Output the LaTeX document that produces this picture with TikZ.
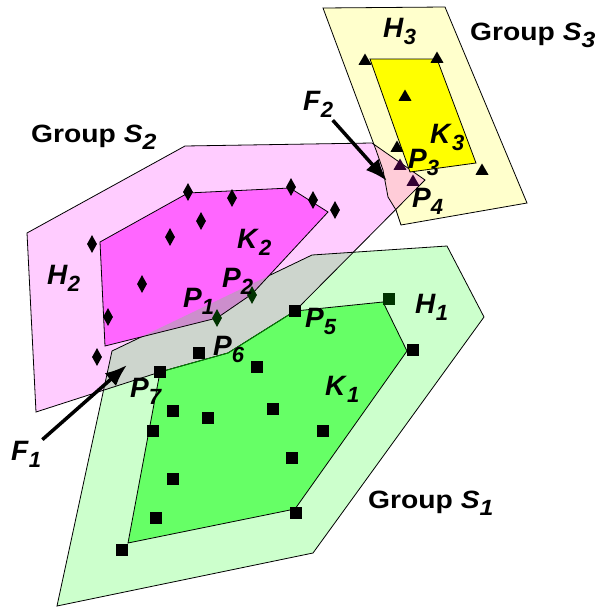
\documentclass[tikz,border=0pt]{standalone}
\usepackage{fontspec}
\setmainfont{Liberation Sans}
\usetikzlibrary{arrows.meta,shapes.geometric}

\definecolor{hullpink}{HTML}{FFCCFF}
\definecolor{corepink}{HTML}{FF66FF}
\definecolor{hullgreen}{HTML}{CCFFCC}
\definecolor{coregreen}{HTML}{66FF66}
\definecolor{hullyellow}{HTML}{FFFFCC}
\definecolor{coreyellow}{HTML}{FFFF00}
\definecolor{overgray}{HTML}{CDD5CD}
\definecolor{overpurple}{HTML}{CC8ECC}
\definecolor{overrose}{HTML}{FFCCD8}
\definecolor{darkgreen}{HTML}{003300}
\definecolor{darkpurple}{HTML}{330033}

% sets and their hulls (picture units: 1pt, y downwards)
\newcommand{\HullOne}{(112,351) -- (312,255) -- (447,246) -- (484,317) -- (313,553) -- (57,606) -- cycle}
\newcommand{\HullTwo}{(27,233) -- (185,146) -- (372,143) -- (425,180) -- (295,311) -- (228,353) -- (160,372) -- (36,412) -- cycle}
\newcommand{\HullThree}{(323,8) -- (445,7) -- (527,203) -- (401,225) -- (396,210) -- (388,197) -- (383,170) -- (376,150) -- cycle}
\newcommand{\CoreOne}{(160,372) -- (228,353) -- (295,311) -- (383,302) -- (407,351) -- (295,509) -- (128,543) -- cycle}
\newcommand{\CoreTwo}{(100,242) -- (188,193) -- (290,188) -- (328,212) -- (252,294) -- (217,318) -- (105,346) -- cycle}
\newcommand{\CoreThree}{(370,59) -- (437,59) -- (476,163) -- (410,172) -- cycle}

\newcommand{\lab}[2]{\textit{#1}\raisebox{-7pt}{\fontsize{22}{22}\selectfont\textit{#2}}}
\newcommand{\grp}[2]{\scalebox{1.13}[1]{Group \lab{#1}{#2}}}

\begin{document}
\begin{tikzpicture}[
  x=1pt, y=-1pt,
  outline/.style={draw=black,line width=0.8pt},
  sqmark/.style={rectangle,fill=black,minimum size=11.5pt,inner sep=0pt},
  dmmark/.style={diamond,fill=black,minimum width=10pt,minimum height=18pt,inner sep=0pt},
  trmark/.style={regular polygon,regular polygon sides=3,fill=black,minimum size=15pt,inner sep=0pt},
  lbl/.style={font=\fontsize{28}{28}\selectfont\bfseries,inner sep=0pt,anchor=base west},
  grplbl/.style={font=\fontsize{25}{25}\selectfont\bfseries,inner sep=0pt,anchor=base west},
  farrow/.style={line width=3.5pt,-{Latex[length=22pt,width=17pt]}}
]
\useasboundingbox (0,0) rectangle (607,608);

% hull fills and their overlaps
\fill[hullpink] \HullTwo;
\fill[hullyellow] \HullThree;
\fill[hullgreen] \HullOne;
\begin{scope}
  \clip \HullOne;
  \fill[overgray] \HullTwo;
\end{scope}
\begin{scope}
  \clip \HullTwo;
  \fill[overrose] \HullThree;
\end{scope}
\draw[outline] \HullTwo;
\draw[outline] \HullOne;
\draw[outline] \HullThree;

% cores
\fill[corepink] \CoreTwo;
\begin{scope}
  \clip \HullOne;
  \fill[overpurple] \CoreTwo;
\end{scope}
\draw[outline] \CoreTwo;
\filldraw[outline,fill=coreyellow] \CoreThree;
\filldraw[outline,fill=coregreen] \CoreOne;
\draw[line width=0.8pt,green!55!black] (160,372) -- (228,353) -- (295,311);

% sample points
\foreach \p [count=\i] in {(295,311),(413,350),(199,353),(160,372),(257,367),
    (173,411),(208,418),(273,409),(323,431),(153,431),(292,458),(173,479),
    (156,518),(296,513),(122,550)}
  \node[sqmark] (sq\i) at \p {};
\node[sqmark,fill=darkgreen] (sqd) at (389,299) {};
\foreach \p [count=\i] in {(188,192),(232,198),(291,187),(313,200),(335,210),
    (201,221),(170,237),(92,244),(142,284),(108,317),(97,357)}
  \node[dmmark] (dm\i) at \p {};
\node[dmmark,fill=darkgreen] (dmd1) at (217,318) {};
\node[dmmark,fill=darkgreen] (dmd2) at (252,295) {};
\foreach \p [count=\i] in {(365,61),(437,59),(405,97),(397,148),(482,171)}
  \node[trmark] (tr\i) at \p {};
\node[trmark,fill=darkpurple] (trd1) at (400,166) {};
\node[trmark,fill=darkpurple] (trd2) at (413,182) {};

% labels
\node[lbl] (H1) at (415,313) {\lab{H}{1}};
\node[lbl] (H2) at (47,284) {\lab{H}{2}};
\node[lbl] (H3) at (383,37) {\lab{H}{3}};
\node[lbl] (K1) at (325,395) {\lab{K}{1}};
\node[lbl] (K2) at (237,248) {\lab{K}{2}};
\node[lbl] (K3) at (430,143) {\lab{K}{3}};
\node[lbl] (P1) at (183,307) {\lab{P}{1}};
\node[lbl] (P2) at (222,287) {\lab{P}{2}};
\node[lbl] (P3) at (408,168) {\lab{P}{3}};
\node[lbl] (P4) at (412,207) {\lab{P}{4}};
\node[lbl] (P5) at (305,327) {\lab{P}{5}};
\node[lbl] (P6) at (213,355) {\lab{P}{6}};
\node[lbl] (P7) at (130,397) {\lab{P}{7}};
\node[grplbl] (G1) at (368,508) {\grp{S}{1}};
\node[grplbl] (G2) at (31,142) {\grp{S}{2}};
\node[grplbl] (G3) at (470,40) {\grp{S}{3}};

% forces
\node[lbl,inner sep=1pt] (F1) at (10,460) {\lab{F}{1}};
\node[lbl,inner sep=3pt] (F2) at (300,110) {\lab{F}{2}};
\coordinate (f1tip) at (127,365);
\coordinate (f2tip) at (387,181);
\draw[farrow] (F1) -- (f1tip);
\draw[farrow] (F2) -- (f2tip);
\end{tikzpicture}
\end{document}
